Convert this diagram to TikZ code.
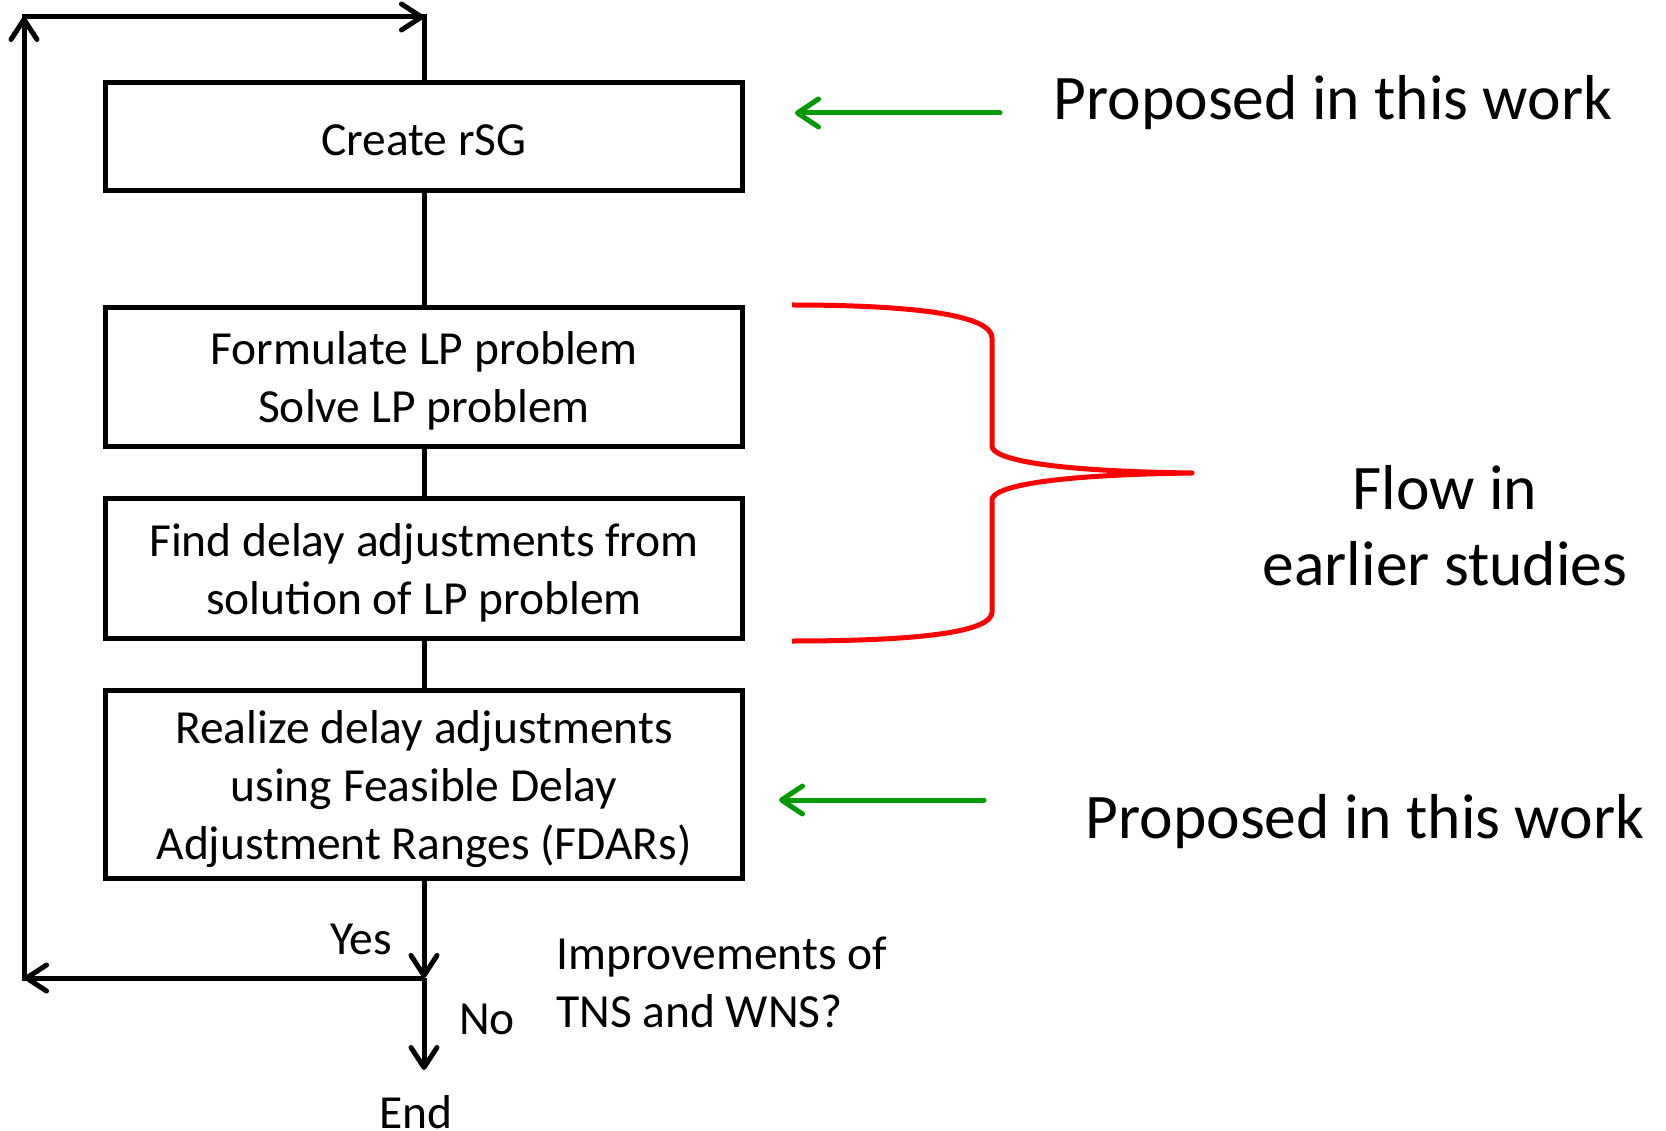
\documentclass[tikz,border=0pt]{standalone}
\usepackage{fontspec}
\setmainfont{Carlito}
\usetikzlibrary{arrows.meta}
\definecolor{grn}{RGB}{0,153,0}
\definecolor{rd}{RGB}{255,0,0}
\begin{document}
\begin{tikzpicture}[x=1pt,y=-1pt,
  box/.style={draw,line width=5pt,minimum width=637pt,inner sep=0pt},
  boxtext/.style={inner sep=0pt,align=center,font=\fontsize{47.5}{58}\selectfont},
  body/.style={inner sep=0pt,font=\fontsize{47.5}{58}\selectfont},
  big/.style={inner sep=0pt,align=center,font=\fontsize{63.5}{76}\selectfont},
  flow/.style={line width=5pt},
  arr/.style={line width=5pt,-{Straight Barb[length=20pt,width=26pt,round]}},
  garr/.style={line width=5pt,draw=grn,line cap=round,-{Straight Barb[length=21pt,width=28pt,round]}},
  brace/.style={line width=5pt,draw=rd,line join=round},
]
\useasboundingbox (0,0) rectangle (1666,1131);

% boxes
\node[box,minimum height=108pt] (b1) at (424,136.5) {};
\node[box,minimum height=139pt] (b2) at (424,377) {};
\node[box,minimum height=140pt] (b3) at (424,568.5) {};
\node[box,minimum height=188pt] (b4) at (424,784.5) {};
\node[boxtext] (t1) at ([yshift=-3.5pt]b1.center) {Create rSG};
\node[boxtext] (t2) at ([yshift=-4pt]b2.center) {Formulate LP problem\\Solve LP problem};
\node[boxtext] (t3) at ([yshift=-4pt]b3.center) {Find delay adjustments from\\solution of LP problem};
\node[boxtext] (t4) at ([yshift=-5pt]b4.center) {Realize delay adjustments\\using Feasible Delay\\Adjustment Ranges (FDARs)};

% connectors between boxes
\draw[flow] (b1.south) -- (b2.north);
\draw[flow] (b2.south) -- (b3.north);
\draw[flow] (b3.south) -- (b4.north);

% loop
\coordinate (j) at (424,978);
\coordinate (yl) at (24,978);
\coordinate (tl) at (24,17);
\coordinate (tr) at (424,17);
\coordinate (ep) at (424,1070);
\draw[arr] (b4.south) -- (j);
\draw[arr] (j) -- (ep);
\draw[arr] (j) -- (yl);
\draw[arr] ([yshift=-2.5pt]yl) -- (tl);
\draw[arr] ([xshift=-2.5pt]tl) -- (tr);
\draw[flow] ([yshift=2.5pt]tr) -- (b1.north);

% labels of the decision
\node[body] (yes) at (361,939) {Yes};
\node[body] (no) at (487,1019) {No};
\node[body] (endn) at (416,1112) {End};
\node[body,anchor=west,align=left] (q) at (556,982) {Improvements of\\TNS and WNS?};

% green arrows and texts
\coordinate (g1s) at (1000,113);
\coordinate (g1e) at (795,113);
\coordinate (g2s) at (984,800);
\coordinate (g2e) at (779,800);
\draw[garr] (g1s) -- (g1e);
\draw[garr] (g2s) -- (g2e);
\node[big] (p1) at (1333,103) {Proposed in this work};
\node[big] (p2) at (1365,822) {Proposed in this work};

% red brace
\draw[brace] (792,305) .. controls (920,305) and (992,316) .. (992,338)
  -- (992,446) .. controls (992,458) and (1040,471) .. (1192,473)
  .. controls (1040,475) and (992,488) .. (992,500)
  -- (992,612) .. controls (992,632) and (920,641) .. (792,641);
\node[big] (flow) at (1445,526) {Flow in\\earlier studies};
\end{tikzpicture}
\end{document}
